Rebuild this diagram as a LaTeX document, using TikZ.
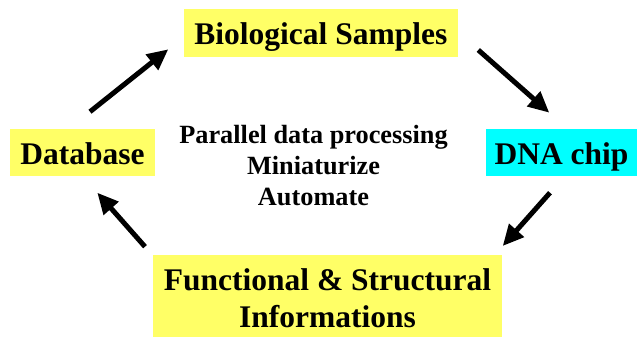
\documentclass[tikz,border=0pt]{standalone}
\usepackage{fontspec}
\setmainfont{Liberation Serif}
\usetikzlibrary{arrows.meta}
\definecolor{boxyellow}{HTML}{FFFF66}
\definecolor{boxcyan}{HTML}{00FFFF}
\tikzset{
  label box/.style={inner sep=0pt, text height=35.5pt, text depth=12pt, anchor=base,
    font=\fontsize{31.5}{37}\selectfont\bfseries},
  big arrow/.style={line width=5pt, -{Triangle[length=21pt,width=19pt]}},
}
\begin{document}
\begin{tikzpicture}[x=1pt,y=-1pt]
\useasboundingbox (0,0) rectangle (637,337);
\node[label box, fill=boxyellow, minimum width=273.7pt] (bio) at (320.8,45) {Biological Samples};
\node[label box, fill=boxyellow, minimum width=145pt] (db) at (82.5,164) {Database};
\node[label box, fill=boxcyan, minimum width=151pt] (dna) at (561.5,164) {DNA chip};
\node[fill=boxyellow, inner sep=0pt, minimum width=348.4pt, minimum height=85.8pt, align=center,
  font=\fontsize{31.5}{37}\selectfont\bfseries] (func) at (327.5,297.9) {Functional \& Structural\\Informations};
\node[inner sep=0pt, align=center, font=\fontsize{26.3}{31}\selectfont\bfseries] (mid) at (313.5,165.4)
  {Parallel data processing\\Miniaturize\\Automate};
\coordinate (a1s) at (90,111.7);
\coordinate (a1e) at (168.3,49.3);
\coordinate (a2s) at (478.3,50);
\coordinate (a2e) at (549.3,112.7);
\coordinate (a3s) at (550,192.7);
\coordinate (a3e) at (502.7,246);
\coordinate (a4s) at (145,246.7);
\coordinate (a4e) at (97.3,192.7);
\draw[big arrow] (a1s) -- (a1e);
\draw[big arrow] (a2s) -- (a2e);
\draw[big arrow] (a3s) -- (a3e);
\draw[big arrow] (a4s) -- (a4e);
\end{tikzpicture}
\end{document}
